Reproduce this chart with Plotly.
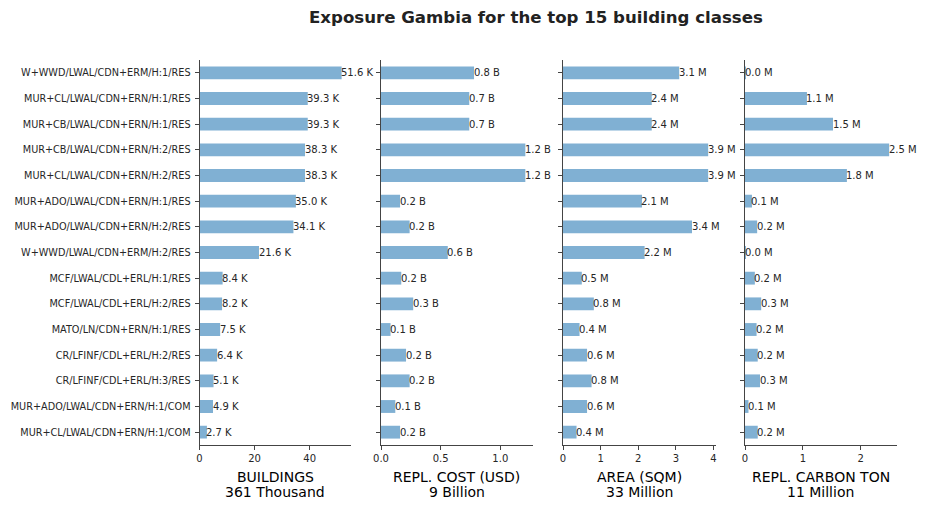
import plotly.graph_objects as go

categories = [
    "W+WWD/LWAL/CDN+ERM/H:1/RES",
    "MUR+CL/LWAL/CDN+ERN/H:1/RES",
    "MUR+CB/LWAL/CDN+ERN/H:1/RES",
    "MUR+CB/LWAL/CDN+ERN/H:2/RES",
    "MUR+CL/LWAL/CDN+ERN/H:2/RES",
    "MUR+ADO/LWAL/CDN+ERN/H:1/RES",
    "MUR+ADO/LWAL/CDN+ERN/H:2/RES",
    "W+WWD/LWAL/CDN+ERM/H:2/RES",
    "MCF/LWAL/CDL+ERL/H:1/RES",
    "MCF/LWAL/CDL+ERL/H:2/RES",
    "MATO/LN/CDN+ERN/H:1/RES",
    "CR/LFINF/CDL+ERL/H:2/RES",
    "CR/LFINF/CDL+ERL/H:3/RES",
    "MUR+ADO/LWAL/CDN+ERN/H:1/COM",
    "MUR+CL/LWAL/CDN+ERN/H:1/COM",
]

buildings_k = [51.6, 39.3, 39.3, 38.3, 38.3, 35.0, 34.1, 21.6, 8.4, 8.2, 7.5, 6.4, 5.1, 4.9, 2.7]
cost_b = [0.78, 0.74, 0.74, 1.21, 1.21, 0.16, 0.24, 0.56, 0.17, 0.27, 0.08, 0.21, 0.24, 0.12, 0.16]
area_m = [3.09, 2.36, 2.36, 3.86, 3.86, 2.10, 3.43, 2.17, 0.50, 0.82, 0.44, 0.64, 0.76, 0.64, 0.36]
carbon_m = [0.01, 1.07, 1.52, 2.49, 1.76, 0.12, 0.21, 0.01, 0.17, 0.28, 0.20, 0.22, 0.26, 0.06, 0.22]

panels = [
    (buildings_k, "K", "BUILDINGS", "361 Thousand", [0, 55], [0, 20, 40], ["0", "20", "40"]),
    (cost_b, "B", "REPL. COST (USD)", "9 Billion", [0, 1.27], [0, 0.5, 1.0], ["0.0", "0.5", "1.0"]),
    (area_m, "M", "AREA (SQM)", "33 Million", [0, 4.06], [0, 1, 2, 3, 4], ["0", "1", "2", "3", "4"]),
    (carbon_m, "M", "REPL. CARBON TON", "11 Million", [0, 2.62], [0, 1, 2], ["0", "1", "2"]),
]

W, H = 927, 510
px_domains = [(199.5, 351), (381, 532.5), (563, 715.7), (745, 896.7)]
y_top, y_bot = 60, 445
BAR = "#80b0d3"
AX = "#444444"
FONT = "DejaVu Sans"
TXT = "#262626"

fig = go.Figure()
annotations = []
for i, (vals, suf, t1, t2, rng, tv, tt) in enumerate(panels):
    n = "" if i == 0 else str(i + 1)
    fig.add_trace(go.Bar(
        x=vals, y=categories, orientation="h",
        marker=dict(color=BAR, line=dict(width=0)),
        width=0.5,
        xaxis="x" + n, yaxis="y" + n, showlegend=False, hoverinfo="skip",
    ))
    for v, c in zip(vals, categories):
        annotations.append(dict(
            x=v, y=c, xref="x" + n, yref="y" + n, text=f"{v:.1f} {suf}",
            showarrow=False, xanchor="left", yanchor="middle", xshift=-2.5,
            font=dict(family=FONT, size=10, color=TXT),
        ))
    d0 = px_domains[i][0] / W
    d1 = px_domains[i][1] / W
    fig.layout["xaxis" + n] = dict(
        domain=[d0, d1], range=rng, tickvals=tv, ticktext=tt,
        showline=True, linecolor=AX, linewidth=1, ticks="outside", ticklen=4,
        tickcolor=AX, showgrid=False, zeroline=False, anchor="y" + n,
        tickfont=dict(family=FONT, size=10, color=TXT), automargin=False,
        fixedrange=True,
    )
    fig.layout["yaxis" + n] = dict(
        domain=[1 - y_bot / H, 1 - y_top / H], type="category",
        categoryorder="array", categoryarray=categories,
        range=[14.5, -0.5], anchor="x" + n,
        showline=True, linecolor=AX, linewidth=1, ticks="outside", ticklen=4,
        tickcolor=AX, showgrid=False, zeroline=False,
        showticklabels=(i == 0), ticklabelstandoff=2,
        tickfont=dict(family=FONT, size=9.7, color=TXT), automargin=False,
        fixedrange=True,
    )
    cx = (d0 + d1) / 2
    annotations.append(dict(x=cx, y=1 - 477 / H, xref="paper", yref="paper",
                            text=t1, showarrow=False, xanchor="center", yanchor="middle",
                            font=dict(family=FONT, size=14, color="#000000")))
    annotations.append(dict(x=cx, y=1 - 492 / H, xref="paper", yref="paper",
                            text=t2, showarrow=False, xanchor="center", yanchor="middle",
                            font=dict(family=FONT, size=14, color="#000000")))

annotations.append(dict(x=536 / W, y=1 - 18 / H, xref="paper", yref="paper",
                        text="<b>Exposure Gambia for the top 15 building classes</b>",
                        showarrow=False, xanchor="center", yanchor="middle",
                        font=dict(family=FONT, size=16.6, color="#222222")))

fig.update_layout(
    width=W, height=H, margin=dict(l=0, r=0, t=0, b=0),
    paper_bgcolor="white", plot_bgcolor="white",
    annotations=annotations, bargap=0.5,
    font=dict(family=FONT),
)

fig.write_html("out.html")
